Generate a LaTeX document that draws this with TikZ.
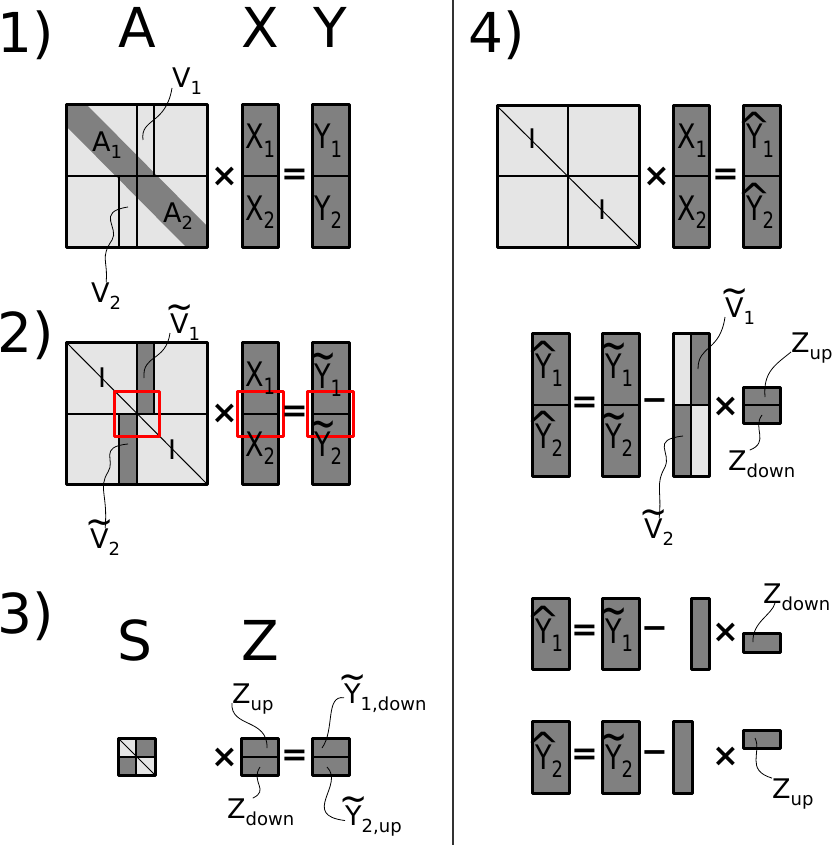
\documentclass[tikz,border=0pt]{standalone}
\usepackage{graphicx}
\usepackage{fontspec}
\setmainfont{DejaVu Sans}
\newcommand\sub[1]{\raisebox{-7pt}{\fontsize{18}{18}\selectfont #1}}
\newcommand\til[1]{\ooalign{#1\cr\hidewidth\raisebox{0.5em}{\scalebox{1.25}[1.4]{\textasciitilde}}\hidewidth\cr}}
\newcommand\hatt[1]{\ooalign{#1\cr\hidewidth\raisebox{0.24em}{\scalebox{1.5}[1.15]{\textasciicircum}}\hidewidth\cr}}
\newcommand\cv[1]{\scalebox{1}[1.25]{#1}}

\begin{document}
\begin{tikzpicture}[x=1pt,y=-1pt,line join=round]

		\tikzstyle{every node}=[inner sep=0pt]
		\tikzstyle{big}=[font=\fontsize{55}{55}\selectfont,anchor=base]
		\tikzstyle{lbl}=[font=\fontsize{27}{27}\selectfont,anchor=base west]
		\tikzstyle{op}=[font=\fontsize{32}{32}\selectfont\bfseries]
		\tikzstyle{mframe}=[draw=black,line width=3pt]
		\tikzstyle{light}=[fill=gray!20]
		\tikzstyle{dark}=[fill=gray]
		\tikzstyle{part}=[line width=1.5pt]
		\tikzstyle{diag}=[line width=1pt]
		\tikzstyle{wire}=[line width=0.8pt]
		\tikzstyle{hilite}=[draw=red,line width=3pt]

		\useasboundingbox (0,0) rectangle (831,845);
		\draw[line width=1.3pt,black!80] (453,0) -- (453,845);

		% 1)
		\node[big] (n1) at (26,53) {1)};
		\node[big] (hA) at (137,48) {A};
		\node[big] (hX) at (260,48) {X};
		\node[big] (hY) at (330,48) {Y};

		\fill[light] (66,105) rectangle (207,247);
		\fill[dark] (66,105) -- (87,105) -- (207,226) -- (207,247) -- (186,247) -- (66,126) -- cycle;
		\draw[part] (66,176) -- (207,176) (137,105) -- (137,247) (154,105) -- (154,176) (119,176) -- (119,247);
		\draw[mframe] (66,105) rectangle (207,247);
		\draw[mframe,dark] (242,105) rectangle (278,247);
		\draw[part] (242,176) -- (278,176);
		\draw[mframe,dark] (312,105) rectangle (349,247);
		\draw[part] (312,176) -- (349,176);

		\node[op] (t1) at (225,177) {×};
		\node[op] (e1) at (295,177) {=};
		\node[lbl] (a1) at (92,152) {A\sub{1}};
		\node[lbl] (a2) at (163,222) {A\sub{2}};
		\node[lbl] (x1) at (245,149) {\cv{X\sub{1}}};
		\node[lbl] (x2) at (245,220) {\cv{X\sub{2}}};
		\node[lbl] (y1) at (314,149) {\cv{Y\sub{1}}};
		\node[lbl] (y2) at (314,220) {\cv{Y\sub{2}}};
		\node[lbl] (v1) at (172,88) {V\sub{1}};
		\node[lbl] (v2) at (91,302) {V\sub{2}};
		\coordinate (v1tip) at (143,140);
		\coordinate (v2tip) at (128,207);

		\draw[wire] (v1.base west) .. controls (166,125) and (140,118) .. (v1tip);
		\draw[wire] (v2.north) .. controls (108,260) and (100,258) .. (112,240)
					.. controls (120,228) and (95,212) .. (v2tip);

		% 2)
		\node[big] (n2) at (26,352) {2)};
		\fill[light] (66,342) rectangle (207,484);
		\fill[dark] (137,342) rectangle (154,414) (119,414) rectangle (137,484);
		\draw[part] (66,414) -- (207,414) (137,342) -- (137,484) (154,342) -- (154,414) (119,414) -- (119,484);
		\draw[diag] (66,342) -- (207,484);
		\draw[mframe] (66,342) rectangle (207,484);
		\draw[hilite] (114,391) rectangle (159,436);
		\draw[mframe,dark] (242,342) rectangle (278,484);
		\draw[part] (242,414) -- (278,414);
		\draw[hilite] (237,391) rectangle (283,436);
		\draw[mframe,dark] (312,342) rectangle (349,484);
		\draw[part] (312,414) -- (349,414);
		\draw[hilite] (307,391) rectangle (353,436);

		\node[op] (t2) at (225,414) {×};
		\node[op] (e2) at (295,414) {=};
		\node[font=\fontsize{27}{27}\selectfont] (i1) at (102,378) {I};
		\node[font=\fontsize{27}{27}\selectfont] (i2) at (172,450) {I};
		\node[lbl] (x1b) at (245,386) {\cv{X\sub{1}}};
		\node[lbl] (x2b) at (245,456) {\cv{X\sub{2}}};
		\node[lbl] (yt1) at (314,388) {\cv{\til{Y}\sub{1}}};
		\node[lbl] (yt2) at (314,456) {\cv{\til{Y}\sub{2}}};
		\node[lbl] (vt1) at (170,333) {\til{V}\sub{1}};
		\node[lbl] (vt2) at (90,548) {\til{V}\sub{2}};
		\coordinate (vt1tip) at (144,378);
		\coordinate (vt2tip) at (128,444);

		\draw[wire] (vt1.base west) .. controls (166,362) and (142,354) .. (vt1tip);
		\draw[wire] (vt2.north) .. controls (108,495) and (98,488) .. (108,472)
					.. controls (116,460) and (98,447) .. (vt2tip);

		% 3)
		\node[big] (n3) at (26,633) {3)};
		\node[big] (hS) at (135,660) {S};
		\node[big] (hZ) at (260,660) {Z};

		\fill[light] (118,738) rectangle (155,775);
		\fill[dark] (136,738) rectangle (155,757) (118,757) rectangle (136,775);
		\draw[part] (118,757) -- (155,757) (136,738) -- (136,775);
		\draw[diag] (118,738) -- (155,775);
		\draw[mframe] (118,738) rectangle (155,775);
		\draw[mframe,dark] (241,738) rectangle (278,775);
		\draw[part] (241,757) -- (278,757);
		\draw[mframe,dark] (312,738) rectangle (349,775);
		\draw[part] (312,757) -- (349,757);

		\node[op] (t3) at (225,758) {×};
		\node[op] (e3) at (295,758) {=};
		\node[lbl] (zu3) at (232,703) {Z\sub{up}};
		\node[lbl] (zd3) at (227,818) {Z\sub{down}};
		\node[lbl] (y1d) at (344,703) {\til{Y}\sub{1,down}};
		\node[lbl] (y2u) at (345,825) {\til{Y}\sub{2,up}};
		\coordinate (zu3tip) at (267,748);
		\coordinate (zd3tip) at (260,767);
		\coordinate (y1dtip) at (322,748);
		\coordinate (y2utip) at (327,767);

		\draw[wire] (zu3.base west) .. controls (230,728) and (268,718) .. (zu3tip);
		\draw[wire] (zd3tip) .. controls (250,782) and (270,790) .. ([xshift=-8pt]zd3.north);
		\draw[wire] (y1d.west) .. controls (325,695) and (335,730) .. (y1dtip);
		\draw[wire] (y2utip) .. controls (345,785) and (300,815) .. (y2u.west);

		% 4)
		\node[big] (n4) at (497,53) {4)};
		\fill[light] (497,106) rectangle (639,247);
		\draw[part] (497,176) -- (639,176) (568,106) -- (568,247);
		\draw[diag] (497,106) -- (639,247);
		\draw[mframe] (497,106) rectangle (639,247);
		\draw[mframe,dark] (673,106) rectangle (709,247);
		\draw[part] (673,176) -- (709,176);
		\draw[mframe,dark] (743,106) rectangle (780,247);
		\draw[part] (743,176) -- (780,176);

		\node[op] (t4) at (657,177) {×};
		\node[op] (e4) at (726,177) {=};
		\node[font=\fontsize{27}{27}\selectfont] (i3) at (532,139) {I};
		\node[font=\fontsize{27}{27}\selectfont] (i4) at (602,210) {I};
		\node[lbl] (x1c) at (677,149) {\cv{X\sub{1}}};
		\node[lbl] (x2c) at (677,220) {\cv{X\sub{2}}};
		\node[lbl] (yh1) at (746,149) {\cv{\hatt{Y}\sub{1}}};
		\node[lbl] (yh2) at (746,220) {\cv{\hatt{Y}\sub{2}}};

		\draw[mframe,dark] (532,333) rectangle (569,476);
		\draw[part] (532,405) -- (569,405);
		\draw[mframe,dark] (602,333) rectangle (639,476);
		\draw[part] (602,405) -- (639,405);
		\fill[light] (673,333) rectangle (709,476);
		\fill[dark] (691,333) rectangle (709,405) (673,405) rectangle (691,476);
		\draw[part] (673,405) -- (709,405) (691,333) -- (691,476);
		\draw[mframe] (673,333) rectangle (709,476);
		\draw[mframe,dark] (743,387) rectangle (780,423);
		\draw[part] (743,405) -- (780,405);

		\node[op] (e5) at (585,405) {=};
		\node[op] (m5) at (655,405) {−};
		\node[op] (t5) at (726,407) {×};
		\node[lbl] (yh1b) at (535,378) {\cv{\hatt{Y}\sub{1}}};
		\node[lbl] (yh2b) at (535,448) {\cv{\hatt{Y}\sub{2}}};
		\node[lbl] (yt1b) at (605,378) {\cv{\til{Y}\sub{1}}};
		\node[lbl] (yt2b) at (605,448) {\cv{\til{Y}\sub{2}}};
		\node[lbl] (vt1r) at (725,317) {\til{V}\sub{1}};
		\node[lbl] (zur) at (791,352) {Z\sub{up}};
		\node[lbl] (zdr) at (728,470) {Z\sub{down}};
		\node[lbl] (vt2r) at (644,538) {\til{V}\sub{2}};
		\coordinate (vt1rtip) at (698,369);
		\coordinate (zurtip) at (765,397);
		\coordinate (zdrtip) at (762,415);
		\coordinate (vt2rtip) at (683,436);

		\draw[wire] (vt1r.base west) .. controls (720,352) and (698,345) .. (vt1rtip);
		\draw[wire] (zur.base west) .. controls (775,365) and (763,372) .. (zurtip);
		\draw[wire] (zdrtip) .. controls (752,428) and (770,442) .. ([xshift=-12pt]zdr.north);
		\draw[wire] (vt2r.north) .. controls (662,490) and (655,485) .. (665,467)
					.. controls (672,452) and (650,440) .. (vt2rtip);

		\draw[mframe,dark] (532,598) rectangle (569,669);
		\draw[mframe,dark] (602,598) rectangle (639,669);
		\draw[mframe,dark] (691,598) rectangle (709,669);
		\draw[mframe,dark] (743,633) rectangle (780,652);
		\node[op] (e6) at (585,633) {=};
		\node[op] (m6) at (655,633) {−};
		\node[op] (t6) at (726,633) {×};
		\node[lbl] (yh1c) at (535,643) {\cv{\hatt{Y}\sub{1}}};
		\node[lbl] (yt1c) at (605,643) {\cv{\til{Y}\sub{1}}};
		\node[lbl] (zd1) at (763,603) {Z\sub{down}};
		\coordinate (zd1tip) at (753,642);
		\draw[wire] ([xshift=12pt]zd1.base west) .. controls (772,615) and (752,622) .. (zd1tip);

		\draw[mframe,dark] (532,721) rectangle (569,793);
		\draw[mframe,dark] (602,721) rectangle (639,793);
		\draw[mframe,dark] (673,721) rectangle (692,793);
		\draw[mframe,dark] (743,730) rectangle (780,748);
		\node[op] (e7) at (585,757) {=};
		\node[op] (m7) at (655,757) {−};
		\node[op] (t7) at (726,757) {×};
		\node[lbl] (yh2c) at (535,769) {\cv{\hatt{Y}\sub{2}}};
		\node[lbl] (yt2c) at (605,769) {\cv{\til{Y}\sub{2}}};
		\node[lbl] (zu2) at (772,798) {Z\sub{up}};
		\coordinate (zu2tip) at (755,738);
		\draw[wire] (zu2tip) .. controls (762,752) and (745,770) .. (zu2.north west);

\end{tikzpicture}
\end{document}
